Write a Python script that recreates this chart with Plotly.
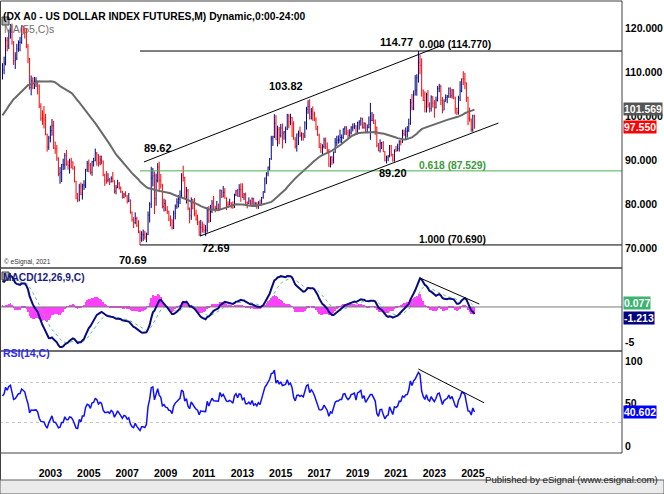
import pandas as pd
import plotly.graph_objects as go

# monthly closes before the visible window (Jun 1996 - Dec 2000), used only to warm up MA/MACD/RSI
close_pre = [
    87.6, 85.6, 85.9, 87.1, 86.5, 86.7, 87.6,
    92.4, 95.0, 96.0, 98.0, 94.4, 96.2, 100.5, 98.9, 97.8, 97.3, 99.3, 99.6,
    99.9, 99.6, 100.9, 99.4, 99.9, 101.3, 101.3, 100.6, 94.0, 92.0, 95.0, 94.2,
    96.3, 99.6, 100.9, 102.5, 104.0, 104.5, 100.6, 101.4, 99.3, 99.1, 102.4, 101.9,
    105.0, 106.6, 106.3, 110.0, 108.4, 106.5, 109.3, 112.5, 114.5, 117.6, 115.3, 109.6,
]

# visible monthly bars, Jan 2001 - Aug 2025
close_ = [
    110.5, 112.0, 117.2, 115.9, 119.1, 120.2, 116.8, 112.6, 113.1, 115.3, 116.7, 116.8,
    120.3, 119.6, 119.0, 115.8, 113.0, 106.5, 108.0, 107.8, 107.9, 108.0, 106.8, 102.2,
    99.5, 99.4, 99.1, 95.8, 93.0, 95.0, 96.7, 97.8, 92.7, 92.6, 90.4, 86.9,
    87.1, 88.9, 88.9, 91.0, 89.0, 88.8, 89.8, 89.5, 88.0, 85.1, 81.3, 80.9,
    83.9, 82.2, 84.3, 84.3, 87.8, 89.2, 88.8, 87.2, 89.6, 89.8, 91.6, 91.2,
    89.3, 90.0, 89.6, 86.6, 85.4, 85.4, 85.6, 85.0, 85.8, 85.2, 82.9, 83.7,
    84.6, 83.6, 82.8, 81.5, 82.2, 81.9, 80.6, 80.9, 78.0, 76.4, 75.8, 76.7,
    75.0, 73.5, 72.2, 73.0, 73.0, 72.5, 73.1, 77.5, 80.0, 85.9, 86.4, 81.3,
    85.3, 88.4, 85.4, 84.3, 79.4, 80.1, 78.5, 78.2, 76.6, 76.4, 74.6, 77.9,
    79.4, 80.4, 81.1, 81.8, 86.6, 86.0, 81.6, 83.0, 78.9, 77.3, 81.0, 79.0,
    77.9, 76.5, 75.9, 72.9, 74.6, 74.3, 74.0, 74.1, 78.6, 76.2, 78.3, 80.2,
    79.0, 78.9, 79.0, 78.8, 83.1, 81.6, 82.6, 81.3, 79.9, 79.8, 80.2, 79.8,
    79.2, 82.2, 83.0, 81.7, 83.3, 83.2, 81.5, 82.1, 80.2, 80.2, 80.7, 80.0,
    81.2, 79.7, 80.1, 79.5, 80.4, 79.8, 81.5, 82.8, 85.9, 87.0, 88.4, 90.3,
    94.8, 95.3, 98.4, 94.6, 96.9, 95.6, 97.3, 96.1, 96.4, 97.0, 100.2, 98.7,
    99.6, 98.2, 94.6, 93.1, 95.9, 96.1, 95.6, 96.0, 95.5, 98.4, 101.5, 102.2,
    99.5, 101.1, 100.4, 99.1, 97.0, 95.6, 92.9, 92.7, 93.1, 94.5, 93.0, 92.1,
    89.1, 90.6, 90.0, 91.8, 94.0, 94.5, 94.5, 95.1, 95.1, 97.1, 97.3, 96.2,
    95.6, 96.2, 97.3, 97.5, 97.8, 96.1, 98.5, 98.9, 99.4, 97.4, 98.3, 96.4,
    97.4, 98.1, 99.0, 99.0, 98.3, 97.4, 93.3, 92.1, 93.9, 94.0, 91.9, 89.9,
    90.6, 90.9, 93.2, 91.3, 90.0, 92.4, 92.1, 92.6, 94.2, 94.1, 96.0, 95.7,
    96.5, 96.7, 98.3, 103.0, 101.8, 104.7, 105.9, 108.7, 112.1, 111.5, 105.9, 103.5,
    102.1, 104.9, 102.5, 101.7, 104.3, 102.9, 101.9, 103.6, 106.2, 106.7, 103.5, 101.3,
    103.3, 104.2, 104.5, 106.2, 104.6, 105.9, 104.1, 101.7, 100.8, 104.0, 105.7, 108.5,
    108.4, 107.6, 104.2, 99.5, 99.3, 96.9, 100.0, 97.55,
]

high_ = [
    112.0, 113.5, 117.9, 118.0, 119.6, 120.9, 121.0, 117.0, 114.5, 116.4, 117.2, 118.0,
    120.6, 120.5, 120.0, 119.8, 116.4, 113.2, 109.2, 108.8, 108.9, 108.8, 108.0, 107.2,
    102.9, 101.3, 102.3, 100.5, 96.0, 95.5, 97.8, 99.3, 98.9, 94.2, 93.4, 90.6,
    88.4, 89.1, 90.3, 91.6, 92.3, 89.9, 90.3, 90.5, 89.7, 88.6, 85.3, 82.5,
    84.6, 84.9, 84.6, 85.4, 88.0, 89.8, 90.1, 89.3, 89.8, 90.5, 92.6, 91.8,
    91.3, 91.0, 91.0, 89.9, 86.9, 87.5, 87.0, 85.9, 86.3, 87.3, 85.4, 84.3,
    85.5, 85.0, 84.0, 83.0, 82.5, 82.9, 82.0, 82.5, 81.0, 78.3, 77.0, 78.1,
    77.1, 76.3, 74.0, 73.8, 74.2, 73.9, 73.5, 78.3, 80.4, 88.46, 88.2, 87.4,
    86.9, 89.3, 89.62, 86.8, 84.6, 81.2, 81.0, 79.5, 78.5, 77.4, 76.5, 78.5,
    79.9, 81.3, 82.0, 83.1, 87.0, 88.7, 86.2, 83.9, 83.4, 79.2, 81.5, 81.1,
    81.4, 78.7, 77.6, 76.2, 76.4, 76.0, 75.5, 75.2, 79.3, 79.5, 79.8, 80.9,
    81.8, 79.6, 80.7, 80.1, 83.3, 83.2, 84.1, 83.6, 81.5, 80.6, 81.2, 80.4,
    80.6, 82.3, 83.2, 83.4, 84.5, 84.7, 84.7, 82.5, 82.6, 80.6, 81.5, 81.0,
    81.5, 81.4, 80.5, 80.4, 80.6, 81.0, 81.6, 82.9, 86.0, 87.2, 88.5, 90.4,
    95.5, 95.5, 100.4, 100.2, 97.8, 97.5, 98.2, 98.3, 96.6, 97.6, 100.5, 100.4,
    100.5, 99.8, 98.8, 95.2, 96.0, 96.7, 97.6, 96.3, 96.2, 98.8, 102.1, 103.6,
    103.82, 101.8, 102.2, 101.0, 99.7, 97.8, 96.0, 93.9, 93.6, 95.1, 95.1, 94.0,
    92.5, 90.8, 90.9, 91.9, 95.0, 95.5, 95.6, 96.9, 95.8, 97.2, 97.7, 97.7,
    96.9, 97.0, 97.7, 98.3, 98.4, 97.9, 98.7, 99.0, 99.7, 99.6, 98.6, 98.5,
    98.1, 99.9, 103.0, 100.9, 100.5, 99.2, 97.6, 93.9, 94.7, 94.1, 94.3, 92.0,
    91.0, 91.1, 93.4, 93.4, 91.4, 92.4, 93.2, 93.7, 94.5, 94.6, 96.9, 96.9,
    97.4, 97.7, 99.4, 103.9, 105.0, 105.8, 109.3, 109.5, 114.77, 113.9, 113.1, 106.0,
    105.6, 105.3, 105.9, 103.1, 104.7, 104.5, 103.6, 104.4, 106.8, 107.3, 107.1, 104.3,
    103.8, 104.9, 104.8, 106.5, 106.5, 106.1, 106.1, 104.4, 101.9, 104.6, 107.9, 108.5,
    110.18, 109.8, 107.6, 104.4, 101.9, 99.4, 100.3, 100.3,
]

low_ = [
    108.3, 109.5, 111.5, 114.7, 115.2, 117.6, 116.2, 111.6, 110.7, 112.7, 114.6, 114.7,
    116.4, 118.7, 117.6, 115.4, 112.0, 106.0, 104.7, 106.1, 106.1, 106.6, 104.9, 101.8,
    98.9, 98.0, 97.2, 95.6, 91.9, 92.3, 94.0, 95.5, 92.5, 91.4, 89.8, 86.3,
    84.6, 85.0, 87.7, 87.8, 88.7, 87.8, 86.9, 88.1, 87.8, 84.9, 81.1, 80.4,
    80.6, 82.0, 81.0, 83.2, 83.6, 87.3, 87.2, 86.7, 86.4, 88.5, 89.7, 88.7,
    88.5, 88.8, 89.0, 86.3, 84.1, 84.6, 84.9, 84.3, 84.9, 84.9, 82.4, 82.2,
    83.6, 83.3, 82.5, 81.2, 81.3, 81.6, 80.1, 80.4, 77.8, 76.0, 74.5, 75.4,
    74.8, 73.4, 70.69, 71.4, 71.6, 71.9, 71.3, 72.9, 75.8, 79.1, 84.0, 77.7,
    79.6, 84.9, 82.7, 83.5, 79.0, 78.3, 78.4, 77.7, 76.1, 74.9, 74.2, 74.3,
    76.5, 78.9, 79.2, 80.0, 81.5, 85.1, 81.4, 80.1, 78.6, 75.6, 76.4, 78.8,
    77.2, 76.2, 75.2, 72.8, 72.69, 73.5, 73.4, 72.7, 73.5, 75.7, 75.9, 77.9,
    78.8, 78.1, 78.6, 78.6, 78.8, 81.4, 81.5, 81.2, 78.6, 79.2, 79.7, 79.0,
    78.9, 79.1, 81.8, 81.7, 81.6, 80.5, 81.4, 80.9, 79.9, 79.0, 80.0, 79.8,
    79.8, 79.7, 79.3, 78.9, 78.9, 79.7, 79.7, 81.2, 82.5, 84.5, 86.3, 87.6,
    90.0, 93.2, 95.0, 94.5, 93.1, 93.6, 95.1, 92.6, 94.6, 93.8, 96.8, 97.2,
    97.9, 95.2, 94.6, 92.6, 91.9, 93.4, 95.2, 94.4, 94.4, 95.0, 96.9, 100.5,
    99.2, 99.2, 98.9, 98.8, 96.8, 95.5, 92.7, 91.6, 91.0, 92.6, 92.5, 91.8,
    88.4, 88.3, 88.9, 89.2, 91.6, 93.2, 93.7, 93.9, 93.8, 94.8, 95.7, 95.7,
    95.0, 95.2, 95.8, 96.5, 97.0, 95.8, 95.8, 96.9, 97.8, 97.1, 97.1, 96.3,
    96.1, 97.2, 94.6, 98.8, 98.2, 95.7, 92.9, 92.0, 91.7, 92.5, 91.8, 89.7,
    89.2, 89.7, 90.6, 90.8, 89.6, 89.6, 91.8, 92.0, 91.9, 93.3, 93.9, 95.5,
    94.6, 95.1, 96.4, 98.0, 101.3, 101.3, 104.7, 104.6, 107.6, 109.5, 104.4, 103.4,
    100.8, 100.8, 101.9, 100.8, 101.0, 101.9, 99.6, 101.7, 103.3, 105.4, 102.5, 100.6,
    101.3, 103.3, 102.9, 104.1, 104.1, 104.0, 103.8, 100.5, 100.2, 100.3, 103.4, 105.4,
    107.0, 106.1, 103.2, 97.9, 98.7, 96.4, 96.4, 97.1,
]

# last values shown in the right-hand boxes
last_close = 97.55
last_ma = 101.569
last_signal = 0.077
last_macd = -1.213
last_rsi = 40.602

# fibonacci retracement drawn from the 2008 low to the 2022 high
fib_start = "2008-03-01"
fib_prices = [114.77, 87.529, 70.69]
fib_colors = ["black", "#4caf50", "black"]

# hand drawn channel and indicator trend lines
upper_x = ["2008-05-15", "2023-12-01"]
upper_y = [89.55, 116.1]
lower_x = ["2011-04-15", "2026-11-01"]
lower_y = [72.7, 98.4]
macd_tl_x = ["2022-10-01", "2025-11-01"]
macd_tl_y = [4.08, 0.42]
rsi_tl_x = ["2022-09-01", "2026-02-01"]
rsi_tl_y = [83.4, 49.7]

years = list(range(2003, 2026, 2))
x_range = ["2000-11-15", "2033-04-08"]

months = pd.date_range("2001-01-01", periods=len(close_), freq="MS")
pre_months = pd.date_range("1996-06-01", periods=len(close_pre), freq="MS")
open_ = [close_pre[-1]] + close_[:-1]

# indicators on the full close history
closes = pd.Series(close_pre + close_, index=pre_months.append(months))
ma55 = closes.rolling(55).mean()
macd = closes.ewm(span=12, adjust=False).mean() - closes.ewm(span=26, adjust=False).mean()
signal = macd.ewm(span=9, adjust=False).mean()
hist = macd - signal
delta = closes.diff()
avg_up = delta.clip(lower=0).ewm(alpha=1 / 14, adjust=False).mean()
avg_dn = (-delta.clip(upper=0)).ewm(alpha=1 / 14, adjust=False).mean()
rsi = 100 - 100 / (1 + avg_up / avg_dn)

ma55, macd, signal, hist, rsi = [s.loc[months] for s in (ma55, macd, signal, hist, rsi)]

W, H = 664, 494
XR = 622 / W
def py(y):
    return 1 - y / H

fig = go.Figure()

# price panel
fig.add_trace(go.Ohlc(
    x=months, open=open_, high=high_, low=low_, close=close_,
    increasing_line_color="#000080", decreasing_line_color="#ff0000",
    line_width=1, xaxis="x", yaxis="y", hoverinfo="skip",
))
fig.add_trace(go.Scatter(x=months, y=ma55, mode="lines",
                         line=dict(color="#6a6a6a", width=2), xaxis="x", yaxis="y"))
for p, c in zip(fib_prices, fib_colors):
    fig.add_trace(go.Scatter(x=[fib_start, x_range[1]], y=[p, p], mode="lines",
                             line=dict(color=c, width=1), xaxis="x", yaxis="y"))
for lx, ly in ((upper_x, upper_y), (lower_x, lower_y)):
    fig.add_trace(go.Scatter(x=lx, y=ly, mode="lines",
                             line=dict(color="black", width=1), xaxis="x", yaxis="y"))

# MACD panel
fig.add_trace(go.Bar(x=months, y=hist, marker_color="#ff40ff", marker_line_width=0,
                     width=1000 * 3600 * 24 * 12, xaxis="x2", yaxis="y2"))
fig.add_trace(go.Scatter(x=[x_range[0], x_range[1]], y=[0, 0], mode="lines",
                         line=dict(color="#7a7a7a", width=1), xaxis="x2", yaxis="y2"))
fig.add_trace(go.Scatter(x=months, y=signal, mode="lines",
                         line=dict(color="#5cc08a", width=1, dash="dot"), xaxis="x2", yaxis="y2"))
fig.add_trace(go.Scatter(x=months, y=macd, mode="lines",
                         line=dict(color="#0a0a80", width=2), xaxis="x2", yaxis="y2"))
fig.add_trace(go.Scatter(x=macd_tl_x, y=macd_tl_y, mode="lines",
                         line=dict(color="black", width=1), xaxis="x2", yaxis="y2"))

# RSI panel
for lvl in (70, 30):
    fig.add_trace(go.Scatter(x=[x_range[0], x_range[1]], y=[lvl, lvl], mode="lines",
                             line=dict(color="#c8c8c8", width=1, dash="dot"), xaxis="x3", yaxis="y3"))
fig.add_trace(go.Scatter(x=months, y=rsi, mode="lines",
                         line=dict(color="#1010ff", width=1.5), xaxis="x3", yaxis="y3"))
fig.add_trace(go.Scatter(x=rsi_tl_x, y=rsi_tl_y, mode="lines",
                         line=dict(color="black", width=1), xaxis="x3", yaxis="y3"))

bold = dict(family="Liberation Sans, Arial", size=11, color="black", weight="bold")
xcommon = dict(domain=[0, XR], range=x_range, type="date", showgrid=False,
               zeroline=False, showline=False, rangeslider=dict(visible=False))
ycommon = dict(side="right", showgrid=False, zeroline=False, showline=False,
               ticks="", tickfont=dict(bold, size=10.5), ticklabelstandoff=2)

fig.update_layout(
    width=W, height=H, margin=dict(l=0, r=0, t=0, b=0),
    paper_bgcolor="white", plot_bgcolor="white", showlegend=False, bargap=0,
    xaxis=dict(xcommon, anchor="y", showticklabels=False),
    xaxis2=dict(xcommon, anchor="y2", matches="x", showticklabels=False),
    xaxis3=dict(xcommon, anchor="y3", matches="x", ticks="",
                tickvals=[f"{y}-07-01" for y in years], ticktext=[str(y) for y in years],
                tickfont=dict(bold, size=10.5), ticklabelstandoff=12),
    yaxis=dict(ycommon, domain=[py(268), py(1)], range=[65.45, 126.14], anchor="x",
               tickvals=[70, 80, 90, 100, 110, 120], tickformat=".3f"),
    yaxis2=dict(ycommon, domain=[py(351), py(268)], range=[-6.2, 5.49], anchor="x2",
                tickvals=[-5], ticktext=["-5"]),
    yaxis3=dict(ycommon, domain=[py(453), py(351)], range=[-0.5, 101.5], anchor="x3",
                showticklabels=False),
)

# panel frames, footer bar, the little study icons
shapes = []
for top, bot in ((1, 268), (268, 351), (351, 453)):
    shapes.append(dict(type="rect", xref="paper", yref="paper", x0=0.5 / W, x1=XR,
                       y0=py(bot), y1=py(top), line=dict(color="#404040", width=1)))
shapes.append(dict(type="line", xref="paper", yref="paper", x0=0.5 / W, x1=0.5 / W,
                   y0=py(480), y1=py(453), line=dict(color="#404040", width=1)))
shapes.append(dict(type="rect", xref="paper", yref="paper", x0=0, x1=1, y0=0, y1=py(480),
                   fillcolor="#ebebeb", line=dict(color="#606060", width=1)))
for top in (17, 272):
    shapes.append(dict(type="rect", xref="paper", yref="paper", x0=2 / W, x1=9 / W,
                       y0=py(top + 8), y1=py(top), fillcolor="#b0b0b0",
                       line=dict(color="#404040", width=1)))
fig.update_layout(shapes=shapes)

def note(text, x, y, xref="x", yref="y", font=bold, **kw):
    fig.add_annotation(text=text, x=x, y=y, xref=xref, yref=yref, showarrow=False,
                       font=font, **kw)

note("(DX A0 - US DOLLAR INDEX FUTURES,M) Dynamic,0:00-24:00", 1 / W, py(9),
     xref="paper", yref="paper", xanchor="left", font=dict(bold, size=10.3))
note("MA(55,C)s", 2 / W, py(21), xref="paper", yref="paper", xanchor="left",
     font=dict(family="Liberation Sans, Arial", size=10.5, color="#707070"))
note("MACD(12,26,9,C)", 1 / W, py(277), xref="paper", yref="paper", xanchor="left",
     font=dict(bold, size=10.2, color="#1a1a80"))
note("RSI(14,C)", 1 / W, py(361), xref="paper", yref="paper", xanchor="left",
     font=dict(bold, size=10.5, color="#2a2aff"))
note("© eSignal, 2021", 2 / W, py(262), xref="paper", yref="paper", xanchor="left",
     font=dict(family="Liberation Sans, Arial", size=6.5, color="#333333"))
note("Published by eSignal (www.esignal.com)", 660 / W, py(487), xref="paper", yref="paper",
     xanchor="right", font=dict(family="Liberation Sans, Arial", size=9.6, color="#202020"))

# RSI scale labels sit just inside the panel edges
rsi_font = dict(bold, size=10.5)
note("100", 623 / W, 100, yref="y3", xref="paper", xanchor="left", yshift=-8, font=rsi_font)
note("50", 623 / W, 50, yref="y3", xref="paper", xanchor="left", font=rsi_font)
note("0", 623 / W, 0, yref="y3", xref="paper", xanchor="left", yshift=7, font=rsi_font)

fib_font = dict(bold, size=10.3)
note("114.77", "2021-07-01", 116.8)
note("0.000 (114.770)", "2022-08-04", 116.3, xanchor="left", font=fib_font)
note("103.82", "2015-10-08", 106.9)
note("89.62", "2009-02-08", 92.8)
note("72.69", "2012-02-15", 70.0)
note("70.69", "2007-10-20", 67.3)
note("89.20", "2021-05-04", 87.0)
note("0.618 (87.529)", "2022-08-04", 88.7, xanchor="left", font=dict(fib_font, color="#3c9a3c"))
note("1.000 (70.690)", "2022-08-04", 72.0, xanchor="left", font=fib_font)

# value boxes on the right axis
box = dict(xref="paper", xanchor="left", font=dict(bold, size=10.5, color="white"), borderpad=0)
note(f"{last_ma:.3f}", 623 / W, last_ma, yref="y", bgcolor="#555555", **box)
note(f"{last_close:.3f}", 623 / W, last_close, yref="y", bgcolor="#ff0000", **box)
note(f"{last_signal:.3f}", 623 / W, last_signal, yref="y2", bgcolor="#3cb371", yshift=3, **box)
note(f"{last_macd:.3f}", 623 / W, last_macd, yref="y2", bgcolor="#000080", yshift=-2, **box)
note(f"{last_rsi:.3f}", 623 / W, last_rsi, yref="y3", bgcolor="#0000ff", **box)

# the page body has a default 8px margin; drop it so the figure fills the window
fig.write_html("out.html", config={"displayModeBar": False},
               post_script="document.body.style.margin='0';")
